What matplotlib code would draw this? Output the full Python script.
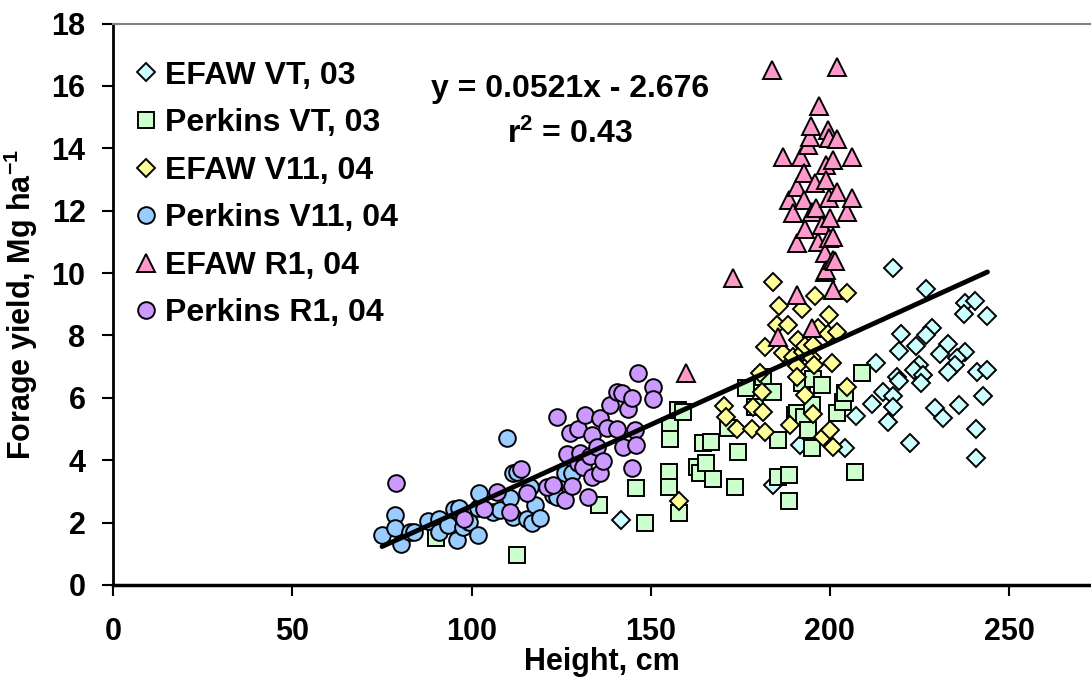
import matplotlib
matplotlib.use("Agg")
import matplotlib.pyplot as plt
import numpy as np

plt.rcParams['font.family'] = ['Liberation Sans', 'DejaVu Sans']
plt.rcParams['font.weight'] = 'bold'
plt.rcParams['mathtext.fontset'] = 'custom'
plt.rcParams['mathtext.rm'] = 'Liberation Sans:bold'
plt.rcParams['mathtext.bf'] = 'Liberation Sans:bold'
plt.rcParams['mathtext.default'] = 'bf'

# forage yield (Mg/ha) vs plant height (cm)
efaw_vt03_x = [217.6, 226.8, 237.7, 240.5, 237.4, 243.8, 220.0, 228.5, 226.8, 224.0,
               219.3, 233.0, 237.7, 230.7, 235.5, 235.0, 213.0, 225.0, 223.5, 226.0,
               233.0, 241.0, 243.8, 218.7, 219.3, 225.4, 214.8, 217.6, 211.7, 217.6,
               229.3, 231.6, 236.0, 242.7, 207.3, 216.2, 240.8, 204.2, 222.3, 240.8,
               184.0, 191.6, 141.6]
efaw_vt03_y = [10.17, 9.5, 9.05, 9.1, 8.7, 8.63, 8.05, 8.25, 8.0, 7.67,
               7.5, 7.73, 7.47, 7.41, 7.28, 7.06, 7.12, 7.06, 6.9, 6.74,
               6.83, 6.83, 6.9, 6.67, 6.54, 6.48, 6.19, 6.06, 5.8, 5.71,
               5.68, 5.36, 5.77, 6.06, 5.42, 5.23, 5.0, 4.4, 4.56, 4.07,
               3.2, 4.5, 2.08]

perkins_vt03_x = [90.2, 112.6, 135.5, 146.0, 148.3, 155.0, 155.0, 155.3, 155.3, 157.5,
                  158.0, 159.0, 162.8, 163.7, 164.5, 165.4, 166.8, 167.4, 171.5, 173.5,
                  174.3, 176.5, 179.0, 181.3, 184.0, 185.5, 185.5, 188.5, 188.5, 190.2,
                  190.8, 192.2, 192.7, 193.9, 195.0, 195.0, 195.3, 197.8, 202.0, 203.6,
                  204.2, 207.0, 209.0]
perkins_vt03_y = [1.5, 0.96, 2.57, 3.1, 2.0, 3.62, 3.14, 5.1, 4.68, 5.61,
                  2.3, 5.55, 3.79, 3.59, 4.55, 3.9, 4.6, 3.4, 5.04, 3.14,
                  4.27, 6.32, 5.71, 6.67, 6.19, 4.65, 3.46, 3.53, 2.69, 5.45,
                  5.52, 6.48, 5.39, 4.97, 5.77, 4.4, 6.6, 6.42, 5.52, 5.87,
                  6.16, 3.62, 6.8]

efaw_v11_x = [157.8, 170.4, 171.0, 174.0, 178.2, 178.5, 180.4, 181.0, 181.3, 181.8,
              181.8, 184.0, 185.2, 185.8, 186.9, 188.3, 188.8, 189.7, 190.8, 190.8,
              191.0, 192.2, 192.5, 193.0, 193.0, 195.0, 195.3, 195.3, 195.5, 195.8,
              196.6, 198.0, 199.4, 199.7, 200.0, 200.6, 200.8, 202.0, 204.7, 204.7]
efaw_v11_y = [2.69, 5.74, 5.39, 5.0, 5.0, 5.71, 6.8, 6.19, 5.55, 7.64,
              4.91, 9.72, 8.34, 8.95, 7.44, 8.34, 5.13, 7.31, 7.03, 6.67,
              7.86, 8.85, 7.47, 7.67, 6.1, 7.28, 7.7, 5.49, 7.06, 9.27,
              8.24, 4.75, 8.05, 8.66, 4.97, 7.12, 4.43, 8.12, 9.37, 6.35]

perkins_v11_x = [74.9, 78.5, 78.5, 80.4, 82.7, 84.0, 87.7, 91.0, 90.8, 93.3,
                 95.2, 95.8, 96.6, 97.5, 99.4, 101.7, 101.7, 102.2, 105.9, 107.8,
                 109.8, 110.6, 111.5, 111.5, 112.6, 115.4, 116.2, 116.8, 117.6, 119.0,
                 122.6, 123.0, 123.7, 126.0, 128.0]
perkins_v11_y = [1.6, 2.25, 1.83, 1.32, 1.7, 1.7, 2.05, 2.12, 1.7, 1.92,
                 2.44, 1.44, 2.47, 1.86, 2.02, 1.6, 2.47, 2.95, 2.34, 2.4,
                 4.72, 2.79, 2.18, 3.6, 3.63, 2.12, 3.14, 1.99, 2.57, 2.15,
                 2.89, 3.15, 2.82, 3.59, 3.6]

efaw_r1_x = [159.8, 172.9, 183.8, 185.5, 186.9, 188.5, 189.7, 190.8, 190.8, 190.8,
             191.9, 192.7, 192.7, 193.0, 193.9, 194.4, 194.7, 195.0, 195.0, 195.8,
             196.0, 196.6, 196.9, 197.8, 198.6, 198.6, 198.9, 198.9, 198.9, 199.4,
             199.7, 199.7, 199.7, 200.0, 200.8, 200.8, 200.8, 200.8, 201.4, 202.0,
             202.0, 202.0, 204.7, 206.1, 206.1]
efaw_r1_y = [6.8, 9.85, 16.5, 7.96, 13.73, 12.35, 11.93, 12.77, 10.97, 9.3,
             13.73, 13.2, 12.35, 11.42, 14.1, 14.37, 14.7, 11.97, 8.24, 12.9,
             12.1, 11.0, 15.37, 11.55, 10.65, 10.04, 13.47, 12.99, 10.1, 14.6,
             14.34, 12.4, 11.13, 11.77, 13.63, 11.16, 10.43, 9.46, 10.4, 16.6,
             14.3, 12.6, 11.97, 13.73, 12.4]

perkins_r1_x = [78.8, 97.8, 103.6, 107.0, 110.6, 113.7, 115.6, 121.0, 122.6, 123.7,
                126.0, 126.5, 127.4, 127.9, 129.6, 129.6, 130.2, 131.0, 131.6, 132.4,
                133.0, 133.5, 133.5, 134.9, 135.8, 135.8, 136.6, 137.7, 138.5, 140.5,
                140.5, 141.9, 142.2, 143.6, 144.7, 144.7, 145.5, 145.8, 146.4, 150.6,
                150.6]
perkins_r1_y = [3.27, 2.12, 2.44, 2.98, 2.34, 3.72, 2.95, 3.14, 3.21, 5.39,
                2.73, 4.2, 4.88, 3.18, 5.0, 3.91, 4.23, 3.79, 5.45, 2.82,
                4.14, 4.81, 3.47, 4.43, 5.36, 3.59, 3.98, 5.04, 5.77, 6.2,
                5.0, 6.15, 4.43, 5.65, 6.0, 3.75, 4.97, 4.49, 6.8, 6.36,
                5.96]

# linear fit over all data
slope = 0.0521
intercept = -2.676
r2 = 0.43
fit_x = np.array([75, 244])

fig = plt.figure(figsize=(10.91, 6.81), dpi=100)
ax = fig.add_axes([0.1039, 0.141, 0.8961, 0.8244])

series = [
    ("EFAW VT, 03", efaw_vt03_x, efaw_vt03_y, "D", 8.7, "#CCFFFF"),
    ("Perkins VT, 03", perkins_vt03_x, perkins_vt03_y, "s", 11.5, "#CCFFCC"),
    ("EFAW V11, 04", efaw_v11_x, efaw_v11_y, "D", 8.7, "#FFFF99"),
    ("Perkins V11, 04", perkins_v11_x, perkins_v11_y, "o", 12, "#99CCFF"),
    ("EFAW R1, 04", efaw_r1_x, efaw_r1_y, "^", 12.5, "#FF99CC"),
    ("Perkins R1, 04", perkins_r1_x, perkins_r1_y, "o", 12, "#CC99FF"),
]
for label, xs, ys, mk, ms, col in series:
    ax.plot(xs, ys, ls="none", marker=mk, ms=ms, mfc=col, mec="black",
            mew=1.4, label=label)

ax.plot(fit_x, slope * fit_x + intercept, color="black", lw=3.5,
        solid_capstyle="round")

ax.text(127.5, 15.66, "y = %.4fx - %.3f" % (slope, -intercept), ha="center",
        va="baseline", fontsize=23, fontweight="bold")
ax.text(127.5, 14.18, "r$^{2}$ = %.2f" % r2, ha="center", va="baseline",
        fontsize=23, fontweight="bold")

ax.set_xlim(0, 272.9)
ax.set_ylim(0, 18)
ax.set_xticks(np.arange(0, 251, 50))
ax.set_yticks(np.arange(0, 19, 2))
ax.tick_params(axis="x", direction="out", length=8, width=1.5, pad=15, labelsize=22)
ax.tick_params(axis="y", direction="out", length=8, width=1.5, pad=12, labelsize=22)

ax.spines["right"].set_visible(False)
ax.spines["top"].set_color("#808080")
ax.spines["top"].set_linewidth(1.5)
ax.spines["left"].set_linewidth(2)
ax.spines["bottom"].set_linewidth(2.5)

ax.set_xlabel("Height, cm", fontsize=22, fontweight="bold", labelpad=0)
ax.set_ylabel("Forage yield, Mg ha$^{-1}$", fontsize=22, fontweight="bold", labelpad=8)

ax.legend(loc="upper left", bbox_to_anchor=(0.0235, 0.934), frameon=False,
          fontsize=23, handlelength=0.6, handletextpad=0.3, labelspacing=0.55,
          borderpad=0, borderaxespad=0, numpoints=1)

fig.savefig("out.png", dpi=100)
